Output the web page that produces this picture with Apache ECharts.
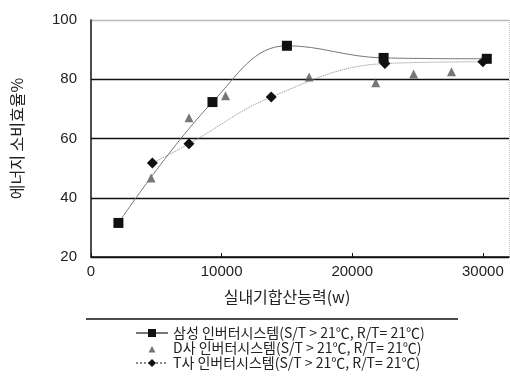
<!DOCTYPE html>
<html>
<head>
<meta charset="utf-8">
<script src="https://cdn.jsdelivr.net/npm/echarts@6/dist/echarts.min.js"></script>
<style>
  html, body { margin: 0; padding: 0; background: #fff; }
  #main { width: 510px; height: 391px; }
</style>
</head>
<body>
<div id="main"></div>
<script>
// values: [capacity (w), efficiency %]
const samsungData = [[2100, 31.5], [9300, 72.3], [15000, 91.3], [22400, 87.2], [30300, 86.9]]
const dData = [[4600, 46.7], [7500, 67], [10300, 74.4], [16700, 80.8], [21800, 78.8], [24700, 81.8], [27600, 82.5]]
const tData = [[4700, 51.7], [7500, 58.2], [13800, 74], [22500, 85.3], [30000, 85.9]]

const seriesNames = [
    '삼성 인버터시스템(S/T > 21℃, R/T= 21℃)',
    'D사 인버터시스템(S/T > 21℃, R/T= 21℃)',
    'T사 인버터시스템(S/T > 21℃, R/T= 21℃)'
]

const numFont = '"Liberation Sans", sans-serif'
const krFont = '"Noto Sans CJK KR", sans-serif'

const chart = echarts.init(document.getElementById('main'))

const option = {
    backgroundColor: '#fff',
    animation: false,
    grid: { left: 91, top: 20, right: 1, bottom: 134 },
    xAxis: {
        type: 'value',
        min: 0,
        max: 32000,
        interval: 10000,
        name: '실내기합산능력(w)',
        nameLocation: 'middle',
        nameGap: 32,
        nameTextStyle: { fontFamily: krFont, fontSize: 16, color: '#222', padding: [0, 26, 0, 0] },
        axisLine: { show: true, lineStyle: { color: '#111', width: 1.5 } },
        axisTick: { show: true, inside: true, length: 4, lineStyle: { color: '#111' } },
        axisLabel: {
            fontFamily: numFont, fontSize: 15, color: '#222', margin: 7, showMaxLabel: false,
            formatter: v => String(v)
        },
        splitLine: {
            show: true,
            lineStyle: { color: ['rgba(0,0,0,0)', 'rgba(0,0,0,0)', 'rgba(0,0,0,0)', 'rgba(0,0,0,0)', '#bbb'], type: 'dotted' }
        }
    },
    yAxis: {
        type: 'value',
        min: 20,
        max: 100,
        interval: 20,
        name: '에너지 소비효율%',
        nameLocation: 'middle',
        nameGap: 66,
        nameTextStyle: { fontFamily: krFont, fontSize: 16, color: '#222' },
        axisLine: { show: true, lineStyle: { color: '#111', width: 1.5 } },
        axisTick: { show: false },
        axisLabel: { fontFamily: numFont, fontSize: 15, color: '#222', margin: 14 },
        splitLine: {
            show: true,
            lineStyle: { color: ['#111', '#111', '#111', '#111', '#bbb'], width: 1.3 }
        }
    },
    legend: {
        orient: 'vertical',
        left: 130,
        top: 321,
        itemGap: 1,
        itemWidth: 32,
        itemHeight: 10,
        textStyle: { fontFamily: krFont, fontSize: 14, color: '#222' },
        data: [
            seriesNames[0],
            // small triangle centred in the icon box (M points only widen the box)
            { name: seriesNames[1], icon: 'path://M0,0M32,10M12.5,9.5L16,3L19.5,9.5Z' },
            seriesNames[2]
        ]
    },
    graphic: [{
        type: 'line',
        shape: { x1: 86, y1: 319, x2: 458, y2: 319 },
        style: { stroke: '#111', lineWidth: 1.3 }
    }],
    series: [
        {
            name: seriesNames[0],
            type: 'line',
            data: samsungData,
            smooth: 0.4,
            symbol: 'rect',
            symbolSize: 10,
            itemStyle: { color: '#111' },
            lineStyle: { color: '#777', width: 1 },
            z: 4
        },
        {
            name: seriesNames[1],
            type: 'scatter',
            data: dData,
            symbol: 'triangle',
            symbolSize: 9,
            itemStyle: { color: '#555' },
            z: 3
        },
        {
            name: seriesNames[2],
            type: 'line',
            data: tData,
            smooth: 0.4,
            symbol: 'diamond',
            symbolSize: 11,
            itemStyle: { color: '#111' },
            lineStyle: { color: '#888', width: 1, type: 'dotted' },
            z: 3
        }
    ]
}

chart.setOption(option)
</script>
</body>
</html>
